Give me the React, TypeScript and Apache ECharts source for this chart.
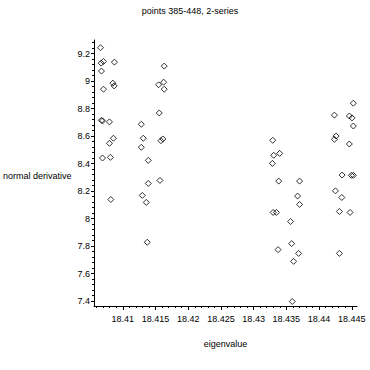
import React, { useEffect, useRef } from "react";
import * as echarts from "echarts";

const titleText = "points 385-448, 2-series";
const xName = "eigenvalue";
const yName = "normal derivative";

const xTicks = [18.41, 18.415, 18.42, 18.425, 18.43, 18.435, 18.44, 18.445];
const yTicks = [7.4, 7.6, 7.8, 8.0, 8.2, 8.4, 8.6, 8.8, 9.0, 9.2];

// series 1 : points 385-416
const series1X = [
  18.40659, 18.4067, 18.40705, 18.40872, 18.40674, 18.40848, 18.40868, 18.40705,
  18.40674, 18.4069, 18.40796, 18.40857, 18.40796, 18.4069, 18.40811, 18.40817,
  18.41633, 18.41548, 18.41624, 18.41633, 18.41557, 18.41283, 18.41313, 18.41283,
  18.41583, 18.41613, 18.4139, 18.41568, 18.4139, 18.41298, 18.41359, 18.41374,
];
const series1Y = [
  9.244, 9.132, 9.144, 9.139, 9.074, 8.986, 8.966, 8.942,
  8.716, 8.711, 8.704, 8.585, 8.548, 8.441, 8.446, 8.139,
  9.11, 8.974, 8.993, 8.942, 8.769, 8.687, 8.585, 8.519,
  8.567, 8.58, 8.424, 8.278, 8.256, 8.169, 8.118, 7.828,
];
// series 2 : points 417-448
const series2X = [
  18.43292, 18.43307, 18.43398, 18.43287, 18.43383, 18.43702, 18.43672, 18.43702,
  18.43298, 18.43348, 18.43565, 18.43581, 18.43374, 18.43687, 18.43611, 18.43591,
  18.44524, 18.44235, 18.44463, 18.44504, 18.44524, 18.44261, 18.44235, 18.44463,
  18.44352, 18.44494, 18.44524, 18.4425, 18.44348, 18.44311, 18.44474, 18.44311,
];
const series2Y = [
  8.57, 8.461, 8.475, 8.402, 8.273, 8.273, 8.164, 8.103,
  8.045, 8.045, 7.979, 7.818, 7.774, 7.747, 7.689, 7.397,
  8.84, 8.753, 8.747, 8.733, 8.674, 8.601, 8.577, 8.543,
  8.317, 8.315, 8.315, 8.202, 8.154, 8.052, 8.045, 7.747,
];

const X_MIN = 18.4056;
const X_MAX = 18.4458;
const Y_MIN = 7.364;
const Y_MAX = 9.3;

const FONT = "Liberation Sans";

function range(a: number, b: number, step: number): number[] {
  const out: number[] = [];
  const n = Math.round((b - a) / step);
  for (let i = 0; i <= n; i++) out.push(+(a + i * step).toFixed(6));
  return out;
}

export default function App() {
  const ref = useRef<HTMLDivElement>(null);
  useEffect(() => {
    if (!ref.current) return;
    const chart = echarts.init(ref.current, undefined, { renderer: "svg" });
    const xMinor = range(18.406, 18.445, 0.001);
    const yMinor = range(7.4, 9.28, 0.04);
    const labelStyle = { fontFamily: FONT, fontSize: 9, color: "#000" };
    const line = { show: true, lineStyle: { color: "#000", width: 1 } };
    const marker = {
      symbol: "diamond",
      symbolSize: 6,
      itemStyle: { color: "rgba(0,0,0,0)", borderColor: "#000", borderWidth: 1 },
    };
    chart.setOption({
      animation: false,
      backgroundColor: "#fff",
      title: {
        text: titleText,
        left: 185,
        textAlign: "center",
        top: 1,
        textStyle: { fontFamily: FONT, fontSize: 9, fontWeight: "normal", color: "#000" },
      },
      grid: { left: 94, right: 13, top: 40, bottom: 64 },
      graphic: [
        {
          type: "text",
          left: 3,
          top: 171,
          style: { text: yName, fontFamily: FONT, fontSize: 9, fill: "#000" },
        },
      ],
      xAxis: [
        {
          type: "value",
          min: X_MIN,
          max: X_MAX,
          name: xName,
          nameLocation: "middle",
          nameGap: 33,
          nameTextStyle: labelStyle,
          axisLine: line,
          splitLine: { show: false },
          axisTick: { show: true, length: 4, customValues: xTicks, lineStyle: { color: "#000" } },
          axisLabel: {
            ...labelStyle,
            margin: 8,
            customValues: xTicks,
            formatter: (v: number) => String(+v.toFixed(3)),
          },
        },
        {
          type: "value",
          min: X_MIN,
          max: X_MAX,
          position: "bottom",
          axisLine: { show: false },
          splitLine: { show: false },
          axisTick: { show: true, length: 2, customValues: xMinor, lineStyle: { color: "#000" } },
          axisLabel: { show: false },
        },
      ],
      yAxis: [
        {
          type: "value",
          min: Y_MIN,
          max: Y_MAX,
          axisLine: line,
          splitLine: { show: false },
          axisTick: { show: true, length: 3, customValues: yTicks, lineStyle: { color: "#000" } },
          axisLabel: {
            ...labelStyle,
            margin: 4,
            customValues: yTicks,
            formatter: (v: number) => String(+v.toFixed(1)),
          },
        },
        {
          type: "value",
          min: Y_MIN,
          max: Y_MAX,
          position: "left",
          axisLine: { show: false },
          splitLine: { show: false },
          axisTick: { show: true, length: 2, customValues: yMinor, lineStyle: { color: "#000" } },
          axisLabel: { show: false },
        },
      ],
      series: [
        {
          type: "scatter",
          name: "series 1",
          data: series1X.map((x, i) => [x, series1Y[i]]),
          ...marker,
        },
        {
          type: "scatter",
          name: "series 2",
          data: series2X.map((x, i) => [x, series2Y[i]]),
          ...marker,
        },
      ],
    });
    return () => chart.dispose();
  }, []);
  return (
    <div
      ref={ref}
      style={{ position: "fixed", left: 0, top: 0, width: 370, height: 370, background: "#fff" }}
    />
  );
}
